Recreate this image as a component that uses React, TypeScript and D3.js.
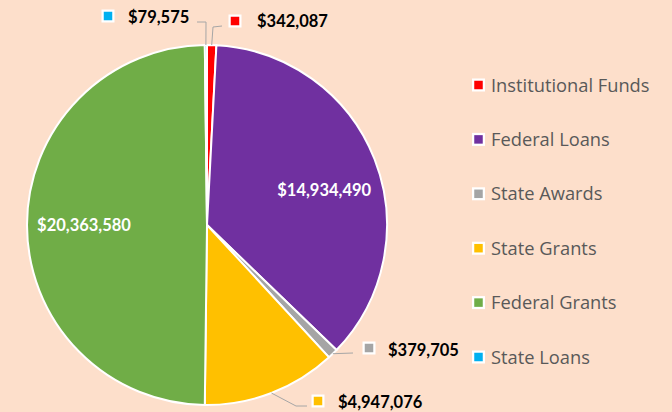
import React from "react";
import * as d3 from "d3";

const categories = ["Institutional Funds", "Federal Loans", "State Awards", "State Grants", "Federal Grants", "State Loans"];
const values = [342087, 14934490, 379705, 4947076, 20363580, 79575];
const colors = ["#FF0000", "#7030A0", "#A5A5A5", "#FFC000", "#70AD47", "#00B0F0"];

// label placement (layout, not data)
const labelInside = [false, true, false, false, true, false];
const insideOffset: [number, number][] = [[0, 0], [0, 11], [0, 0], [0, 0], [3, 0], [0, 0]];
const labelLayout: ({ pts: [number, number][]; marker: [number, number]; textX: number; textY: number } | null)[] = [
  { pts: [[213, 27], [222, 26]], marker: [235, 21], textX: 257, textY: 21 },
  null,
  { pts: [[353, 353]], marker: [369, 348], textX: 388, textY: 350 },
  { pts: [[296, 406], [307, 406]], marker: [318, 401], textX: 338, textY: 402 },
  null,
  { pts: [[206, 22], [197, 22]], marker: [108, 16], textX: 128, textY: 17 },
];

const W = 672, H = 412;
const cx = 207, cy = 225, R = 180;
const fmt = (v: number) => "$" + d3.format(",")(v);

export default function App() {
  const data = categories.map((c, i) => ({ c, v: values[i], i }));
  const pie = d3.pie<any>().sort(null).value((d: any) => d.v);
  const arcs = pie(data);
  const arc = d3.arc<any>().innerRadius(0).outerRadius(R);
  const inArc = d3.arc<any>().innerRadius(R * 0.7).outerRadius(R * 0.7);
  const legendY = d3.scalePoint<string>().domain(categories).range([85, 357]);
  const font = "Lato, 'Open Sans', sans-serif";
  const legendFont = "'Open Sans', sans-serif";
  return (
    <svg width={W} height={H} style={{ position: "absolute", left: 0, top: 0 }}>
      <rect width={W} height={H} fill="#FDDFCB" />
      <g transform={`translate(${cx},${cy})`}>
        {arcs.map((a, i) => (
          <path key={i} d={arc(a) as string} fill={colors[i]} stroke="#fff" strokeWidth={2} strokeLinejoin="round" />
        ))}
      </g>
      {arcs.map((a, i) => {
        const mid = (a.startAngle + a.endAngle) / 2;
        if (labelInside[i]) {
          const [x, y] = inArc.centroid(a);
          return (
            <text key={"l" + i} x={cx + x + insideOffset[i][0]} y={cy + y + insideOffset[i][1]} dy="0.36em" textAnchor="middle" fill="#fff"
              fontFamily={font} fontWeight="bold" fontSize={16.5}>{fmt(values[i])}</text>
          );
        }
        const L = labelLayout[i]!;
        const ex = cx + R * Math.sin(mid), ey = cy - R * Math.cos(mid);
        const pts = [[ex, ey], ...L.pts];
        return (
          <g key={"l" + i}>
            <polyline points={pts.map((p) => p.join(",")).join(" ")} fill="none" stroke="#A6A6A6" strokeWidth={1} />
            <rect x={L.marker[0] - 6.5} y={L.marker[1] - 6.5} width={13} height={13} fill="#fff" />
            <rect x={L.marker[0] - 4.25} y={L.marker[1] - 4.25} width={8.5} height={8.5} fill={colors[i]} />
            <text x={L.textX} y={L.textY} dy="0.36em" fill="#000" fontFamily={font} fontWeight="bold" fontSize={16.5}>
              {fmt(values[i])}
            </text>
          </g>
        );
      })}
      <g>
        {categories.map((c, i) => {
          const y = legendY(c)!;
          return (
            <g key={"lg" + i}>
              <rect x={472} y={y - 6.5} width={13} height={13} fill="#fff" />
              <rect x={474.25} y={y - 4.25} width={8.5} height={8.5} fill={colors[i]} />
              <text x={491} y={y} dy="0.36em" fill="#595959" fontFamily={legendFont} fontSize={18.3}>{c}</text>
            </g>
          );
        })}
      </g>
    </svg>
  );
}
